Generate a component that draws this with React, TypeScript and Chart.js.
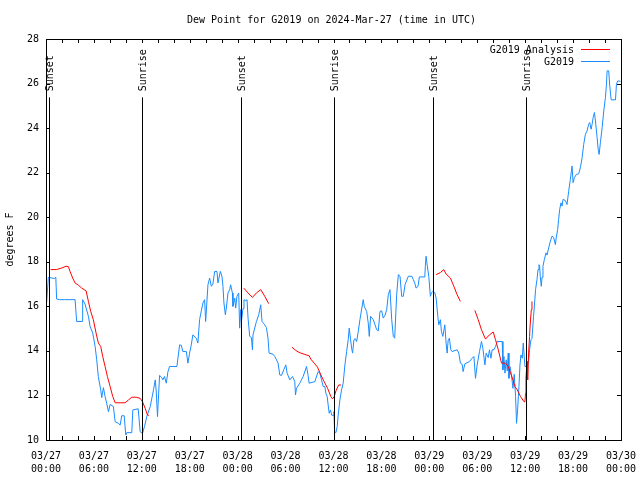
import React, { useEffect, useRef } from "react";
import { Chart, registerables } from "chart.js";

Chart.register(...registerables);

const FONT = '"DejaVu Sans Mono", "Liberation Mono", monospace';
const TITLE = "Dew Point for G2019 on 2024-Mar-27 (time in UTC)";
const Y_LABEL = "degrees F";
const SERIES_NAMES = ["G2019 Analysis", "G2019"];
const SERIES_COLORS = ["#ff0000", "#1a8cff"];

// x tick labels (every 6 hours from 03/27 00:00 UTC)
const xTickDates = ["03/27", "03/27", "03/27", "03/27", "03/28", "03/28", "03/28", "03/28", "03/29", "03/29", "03/29", "03/29", "03/30"];
const xTickTimes = ["00:00", "06:00", "12:00", "18:00", "00:00", "06:00", "12:00", "18:00", "00:00", "06:00", "12:00", "18:00", "00:00"];
const yTickValues = [10, 12, 14, 16, 18, 20, 22, 24, 26, 28];

// sunrise / sunset markers (hours since 03/27 00:00 UTC)
const sunEventHours = [0.35, 12.0, 24.38, 36.05, 48.45, 60.05];
const sunEventLabels = ["Sunset", "Sunrise", "Sunset", "Sunrise", "Sunset", "Sunrise"];
const sunLineTop = 25.38;

// observed G2019 dew point (hours since 03/27 00:00 UTC, deg F)
const obsHours = [
  0.08, 0.29, 1.04, 1.23, 1.33, 1.67, 2.3, 2.92, 3.64, 3.84, 4.55, 4.59, 4.89, 5.31, 5.52, 5.85, 6.15, 6.35, 6.55, 6.85,
  6.98, 7.19, 7.4, 7.6, 7.82, 8.03, 8.44, 8.66, 9.07, 9.28, 9.49, 9.79, 9.99, 10.11, 10.74, 10.87, 11.54, 11.79, 12.08, 12.33,
  12.62, 13.05, 13.46, 13.68, 13.8, 13.96, 14.22, 14.5, 14.63, 14.84, 15.06, 15.26, 15.47, 16.39, 16.73, 16.94, 17.14, 17.57, 17.77, 17.98,
  18.19, 18.39, 18.82, 19.02, 19.23, 19.45, 19.65, 19.86, 19.99, 20.28, 20.49, 20.7, 20.9, 21.12, 21.41, 21.53, 21.66, 21.83, 22.03, 22.16,
  22.28, 22.46, 22.58, 22.79, 23.0, 23.12, 23.34, 23.41, 23.63, 23.75, 23.91, 24.13, 24.25, 24.38, 24.47, 24.67, 24.79, 25.01, 25.17, 25.3,
  25.51, 25.72, 25.85, 25.92, 26.35, 26.64, 26.89, 27.05, 27.39, 27.6, 27.8, 27.93, 28.43, 28.65, 28.86, 29.06, 29.27, 29.49, 29.77, 30.03,
  30.19, 30.53, 30.87, 31.15, 31.24, 31.37, 31.78, 32.2, 32.62, 32.82, 32.95, 33.66, 34.08, 34.29, 34.5, 34.71, 34.92, 35.04, 35.21, 35.33,
  35.46, 35.63, 35.76, 35.96, 36.05, 36.14, 36.3, 36.46, 36.59, 36.8, 37.01, 37.21, 37.43, 37.64, 37.84, 37.97, 38.14, 38.27, 38.39, 38.56,
  38.72, 38.9, 39.1, 39.31, 39.72, 39.85, 40.15, 40.35, 40.48, 40.65, 40.98, 41.41, 41.61, 41.82, 42.03, 42.23, 42.45, 42.66, 42.86, 43.07,
  43.29, 43.49, 43.66, 43.91, 44.12, 44.33, 44.54, 44.74, 44.96, 45.37, 45.8, 46.0, 46.17, 46.34, 46.59, 46.75, 47.43, 47.5, 47.59, 47.75,
  47.93, 48.13, 48.26, 48.43, 48.68, 48.85, 49.06, 49.18, 49.39, 49.51, 49.69, 49.81, 49.94, 50.1, 50.23, 50.35, 50.51, 50.69, 50.85, 51.48,
  51.69, 51.89, 52.11, 52.23, 52.45, 53.02, 53.36, 53.58, 53.78, 53.99, 54.28, 54.53, 54.71, 54.96, 55.12, 55.37, 55.53, 55.71, 55.87, 56.09,
  56.29, 56.5, 57.13, 57.21, 57.34, 57.47, 57.63, 57.76, 57.88, 57.97, 58.09, 58.29, 58.47, 58.63, 58.8, 58.92, 59.05, 59.22, 59.35, 59.47,
  59.64, 59.76, 59.97, 60.14, 60.23, 60.43, 60.55, 60.73, 60.85, 61.05, 61.18, 61.3, 61.48, 61.61, 61.73, 61.81, 61.89, 62.02, 62.11, 62.23,
  62.4, 62.61, 62.74, 62.94, 63.15, 63.36, 63.56, 63.78, 63.9, 64.07, 64.19, 64.32, 64.49, 64.62, 64.74, 65.03, 65.24, 65.45, 65.66, 65.79,
  65.87, 66.0, 66.16, 66.41, 66.7, 66.91, 67.13, 67.33, 67.54, 67.75, 67.95, 68.08, 68.26, 68.38, 68.51, 68.67, 68.8, 69.01, 69.14, 69.26,
  69.42, 69.64, 69.84, 70.05, 70.18, 70.26, 70.46, 70.59, 70.77, 71.31, 71.43, 71.59, 71.93,
];
const obsValues = [
  16.16, 17.3, 17.25, 17.3, 16.33, 16.3, 16.3, 16.3, 16.3, 15.32, 15.32, 16.3, 16.1, 15.55, 15.1, 14.8, 14.2, 13.6, 12.85, 12.25,
  11.9, 12.35, 11.95, 11.65, 11.27, 11.6, 11.5, 10.82, 10.75, 10.67, 11.09, 11.09, 10.22, 10.33, 10.33, 11.35, 11.4, 10.37, 10.3, 10.6,
  11.05, 11.5, 12.25, 12.7, 12.2, 11.05, 12.9, 12.8, 12.7, 12.85, 12.55, 13.05, 13.3, 13.3, 14.27, 14.25, 13.97, 13.97, 13.45, 13.9,
  14.27, 14.72, 14.57, 14.35, 15.4, 15.8, 16.15, 16.3, 15.32, 16.97, 17.27, 16.9, 17.0, 17.57, 17.57, 17.05, 17.27, 17.57, 17.35, 16.9,
  16.15, 15.62, 15.92, 16.6, 16.75, 16.97, 16.6, 16.0, 16.37, 15.92, 16.45, 16.6, 15.02, 15.85, 15.32, 15.9, 16.3, 16.25, 16.3, 15.47,
  14.65, 14.6, 14.05, 14.72, 15.32, 15.62, 16.07, 15.32, 15.17, 15.05, 14.57, 13.9, 13.85, 13.75, 13.6, 13.45, 12.92, 12.9, 13.15, 13.37,
  13.0, 12.7, 12.85, 12.62, 12.02, 12.32, 12.55, 12.85, 13.3, 12.9, 12.55, 12.62, 13.07, 13.0, 12.7, 12.4, 12.4, 12.1, 11.95, 11.57,
  11.2, 11.35, 11.12, 11.1, 11.27, 10.37, 10.33, 10.6, 11.12, 11.8, 12.25, 12.55, 13.37, 13.97, 14.5, 15.02, 14.5, 14.12, 13.9, 14.5,
  14.55, 14.42, 14.87, 15.4, 16.3, 16.0, 15.77, 15.25, 14.65, 15.55, 15.4, 14.95, 14.9, 15.77, 15.8, 15.47, 15.6, 15.85, 16.52, 16.75,
  15.4, 14.65, 14.57, 16.52, 17.42, 17.35, 16.45, 16.45, 16.97, 17.35, 17.35, 17.2, 17.05, 16.82, 16.9, 17.32, 17.32, 17.8, 18.25, 17.8,
  17.35, 16.45, 16.6, 16.67, 16.62, 16.37, 15.55, 15.17, 15.4, 14.87, 14.65, 14.9, 15.17, 14.35, 13.9, 14.45, 14.57, 14.05, 13.97, 14.05,
  13.9, 13.45, 13.4, 13.07, 13.42, 13.52, 13.67, 13.75, 12.77, 13.37, 13.97, 14.42, 14.1, 13.37, 13.9, 13.7, 14.05, 13.67, 14.05, 14.05,
  14.2, 14.42, 14.42, 13.15, 13.75, 13.0, 13.6, 13.1, 13.9, 12.77, 13.3, 12.9, 12.32, 12.95, 11.95, 10.75, 11.35, 12.4, 13.37, 13.82,
  13.67, 14.35, 13.3, 13.3, 13.37, 13.52, 14.05, 14.5, 14.55, 15.55, 16.15, 16.75, 17.2, 17.65, 17.87, 17.8, 17.35, 16.9, 17.3, 17.8,
  18.1, 18.4, 18.3, 18.62, 18.92, 19.15, 19.1, 18.77, 19.1, 19.45, 19.9, 20.35, 20.65, 20.5, 20.8, 20.75, 20.57, 21.17, 21.7, 22.07,
  22.3, 21.55, 21.77, 21.92, 21.95, 22.22, 22.67, 23.27, 23.72, 23.87, 24.17, 24.25, 23.95, 24.17, 24.47, 24.7, 24.32, 23.57, 23.05, 22.82,
  23.35, 24.02, 24.77, 25.37, 25.97, 26.57, 26.57, 25.9, 25.27, 25.27, 25.97, 26.12, 26.1,
];

// analysis series (null = gap)
const anaHours = [
  0.58, 1.33, 1.96, 2.51, 2.8, 3.01, 3.34, 3.64, 4.05, 4.47, 4.77, 5.02, 5.31, 5.6, 5.93, 6.27, 6.56, 6.85, 7.1, 7.4,
  7.69, 8.03, 8.36, 8.66, 9.91, 10.33, 10.74, 11.29, 11.79, 12.08, 12.42, 12.71, 12.87,
  18.0,
  24.76, 25.3, 25.85, 26.35, 26.89, 27.39, 27.89,
  29.0,
  30.78, 31.28, 31.69, 32.32, 32.95, 33.16, 33.58, 34.0, 34.42, 34.83, 35.26, 35.67, 35.88, 36.09, 36.3, 36.64, 36.93,
  42.0,
  48.85, 49.39, 49.81, 50.1, 50.64, 51.07, 51.48, 51.89,
  52.8,
  53.7, 54.12, 54.53, 55.03, 55.53, 56.0, 56.29, 56.63, 57.04, 57.54, 57.88, 58.17, 58.47, 58.72, 59.01, 59.42, 59.85, 59.97, 60.05, 60.1,
  60.23, 60.31, 60.43, 60.55, 60.64, 60.77, 60.85,
];
const anaValues = [
  17.65, 17.65, 17.72, 17.8, 17.78, 17.57, 17.27, 17.05, 16.95, 16.82, 16.75, 16.7, 16.22, 15.77, 15.4, 14.8, 14.35, 14.2, 13.75, 13.3,
  12.85, 12.4, 11.95, 11.67, 11.67, 11.8, 11.92, 11.92, 11.87, 11.72, 11.42, 11.12, 11.1,
  null,
  16.82, 16.6, 16.4, 16.6, 16.75, 16.45, 16.12,
  null,
  14.17, 14.02, 13.93, 13.85, 13.78, 13.63, 13.45, 13.27, 12.92, 12.62, 12.32, 11.95, 11.85, 11.95, 12.2, 12.47, 12.47,
  null,
  17.42, 17.52, 17.65, 17.45, 17.27, 16.9, 16.52, 16.22,
  null,
  15.82, 15.4, 14.95, 14.53, 14.72, 14.85, 14.5, 14.05, 13.45, 13.45, 13.3, 13.0, 12.7, 12.4, 12.25, 11.95, 11.72, 11.72, 12.1, 12.77,
  13.52, 12.7, 13.9, 14.65, 15.25, 15.85, 16.22,
];

const gnuplotFrame = {
  id: "gnuplotFrame",
  afterDraw(chart: any) {
    const ctx = chart.ctx;
    const area = chart.chartArea;
    const xs = chart.scales.x;
    const ys = chart.scales.y;
    ctx.save();
    ctx.lineWidth = 1;
    // sunrise / sunset lines
    const yTop = ys.getPixelForValue(sunLineTop);
    sunEventHours.forEach((h, i) => {
      const x = Math.round(xs.getPixelForValue(h)) + 0.5;
      ctx.strokeStyle = "#000";
      ctx.beginPath();
      ctx.moveTo(x, yTop);
      ctx.lineTo(x, area.bottom);
      ctx.stroke();
      ctx.save();
      ctx.translate(x + 1, yTop - 6);
      ctx.rotate(-Math.PI / 2);
      ctx.fillStyle = "#000";
      ctx.font = "10px " + FONT;
      ctx.textAlign = "left";
      ctx.textBaseline = "middle";
      ctx.fillText(sunEventLabels[i], 0, 0);
      ctx.restore();
    });
    // border
    ctx.strokeStyle = "#000";
    ctx.strokeRect(area.left + 0.5, area.top + 0.5, area.right - area.left, area.bottom - area.top);
    // inward ticks
    const tl = 4;
    ctx.beginPath();
    for (let h = 0; h <= 72; h += 2) {
      const x = Math.round(xs.getPixelForValue(h)) + 0.5;
      ctx.moveTo(x, area.bottom);
      ctx.lineTo(x, area.bottom - tl);
      ctx.moveTo(x, area.top);
      ctx.lineTo(x, area.top + tl);
    }
    yTickValues.forEach((v) => {
      const y = Math.round(ys.getPixelForValue(v)) + 0.5;
      ctx.moveTo(area.left, y);
      ctx.lineTo(area.left + tl, y);
      ctx.moveTo(area.right, y);
      ctx.lineTo(area.right - tl, y);
    });
    ctx.stroke();
    // title
    ctx.fillStyle = "#000";
    ctx.font = "10px " + FONT;
    ctx.textAlign = "center";
    ctx.textBaseline = "middle";
    ctx.fillText(TITLE, (area.left + area.right) / 2 - 2, 20);
    // legend
    ctx.textAlign = "right";
    const legY = [50, 62];
    SERIES_NAMES.forEach((name, i) => {
      ctx.fillStyle = "#000";
      ctx.fillText(name, 574, legY[i]);
      ctx.strokeStyle = chart.data.datasets[i].borderColor;
      ctx.lineWidth = 1;
      ctx.beginPath();
      ctx.moveTo(581, legY[i] - 0.5);
      ctx.lineTo(610, legY[i] - 0.5);
      ctx.stroke();
    });
    ctx.restore();
  },
};

export default function App() {
  const ref = useRef<HTMLCanvasElement | null>(null);
  useEffect(() => {
    if (!ref.current) return;
    const obsData = obsHours.map((h, i) => ({ x: h, y: obsValues[i] }));
    const anaData = anaHours.map((h, i) => ({ x: h, y: anaValues[i] }));
    const chart = new Chart(ref.current, {
      type: "line",
      data: {
        datasets: [
          {
            label: SERIES_NAMES[0],
            data: anaData as any,
            borderColor: SERIES_COLORS[0],
            borderWidth: 1,
            pointRadius: 0,
            tension: 0,
            spanGaps: false,
          },
          {
            label: SERIES_NAMES[1],
            data: obsData as any,
            borderColor: SERIES_COLORS[1],
            borderWidth: 1,
            pointRadius: 0,
            tension: 0,
          },
        ],
      },
      options: {
        animation: false,
        responsive: false,
        devicePixelRatio: 1,
        layout: { padding: { left: 0, top: 39, right: 19, bottom: 0 } },
        plugins: {
          legend: { display: false },
          title: { display: false },
          tooltip: { enabled: false },
        },
        scales: {
          x: {
            type: "linear",
            min: 0,
            max: 72,
            grid: { display: false, drawTicks: false, tickLength: 0 },
            border: { display: false },
            afterFit: (s: any) => {
              s.height = 40;
              s.paddingLeft = 0;
              s.paddingRight = 0;
            },
            afterBuildTicks: (s: any) => {
              s.ticks = xTickDates.map((_, i) => ({ value: i * 6 }));
            },
            ticks: {
              autoSkip: false,
              maxRotation: 0,
              minRotation: 0,
              padding: 10,
              color: "#000",
              font: { family: FONT, size: 10, lineHeight: 1.3 },
              callback: (_v: any, i: number) => [xTickDates[i], xTickTimes[i]],
            },
          },
          y: {
            min: 10,
            max: 28,
            grid: { display: false, drawTicks: false, tickLength: 0 },
            border: { display: false },
            afterFit: (s: any) => {
              s.width = 46;
              s.paddingTop = 0;
              s.paddingBottom = 0;
            },
            afterBuildTicks: (s: any) => {
              s.ticks = yTickValues.map((v) => ({ value: v }));
            },
            title: {
              display: true,
              text: Y_LABEL,
              color: "#000",
              font: { family: FONT, size: 10 },
              padding: { top: 4, bottom: 0 },
            },
            ticks: {
              padding: 7,
              color: "#000",
              font: { family: FONT, size: 10 },
              callback: (v: any) => String(v),
            },
          },
        },
      },
      plugins: [gnuplotFrame],
    });
    return () => chart.destroy();
  }, []);
  return (
    <div style={{ position: "absolute", left: 0, top: 0, width: 640, height: 480, background: "#fff" }}>
      <canvas ref={ref} width={640} height={480} />
    </div>
  );
}
